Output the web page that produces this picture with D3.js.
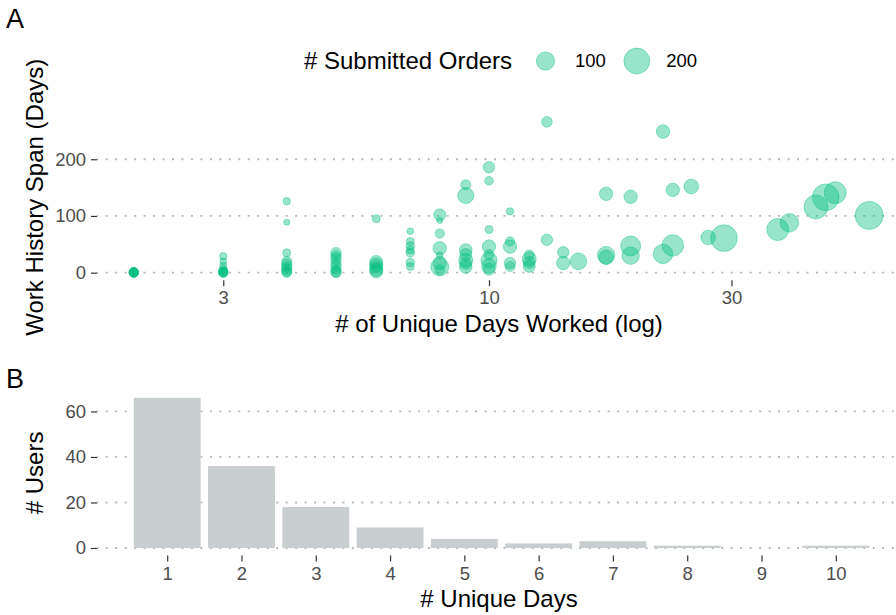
<!DOCTYPE html>
<html>
<head>
<meta charset="utf-8">
<script src="https://cdn.jsdelivr.net/npm/d3@7"></script>
<style>
  body { margin: 0; background: #fff; }
  svg { display: block; font-family: "Liberation Sans", Arial, sans-serif; }
  .tick text { fill: #4d4d4d; font-size: 18.5px; }
  .tick line { stroke: #333; stroke-width: 1.2; }
  .grid line { stroke: #b8b8b8; stroke-width: 1.8; stroke-dasharray: 2 7.47; stroke-dashoffset: 0.77; }
  .title { font-size: 24px; fill: #000; }
</style>
</head>
<body>
<svg id="chart" width="896" height="615"></svg>
<script>
// panel A: one entry per user
const daysWorked = [
  2, 2, 2, 2, 2, 2,
  3, 3, 3, 3, 3, 3, 3, 3,
  4, 4, 4, 4, 4, 4, 4, 4, 4,
  5, 5, 5, 5, 5, 5, 5, 5,
  6, 6, 6, 6, 6, 6,
  7, 7, 7, 7, 7, 7, 7,
  8, 8, 8, 8, 8, 8, 8, 8,
  9, 9, 9, 9, 9, 9, 9,
  10, 10, 10, 10, 10, 10, 10, 10,
  11, 11, 11, 11, 11,
  12, 12, 12, 12,
  13, 13, 14, 14, 15,
  17, 17, 17, 19, 19, 19,
  22, 22, 23, 23, 25, 27, 29,
  37, 39, 44, 46, 48, 56
];
const spanDays = [
  0, 0, 1, 0, 0, 1,
  29, 20, 12, 5, 2, 0, 0, 1,
  126, 89, 35, 20, 15, 10, 6, 2, 0,
  35, 30, 25, 18, 12, 6, 2, 0,
  95, 19, 14, 10, 5, 2,
  73, 55, 47, 40, 35, 18, 11,
  102, 92, 69, 43, 31, 17, 10, 5,
  155, 136, 40, 32, 22, 16, 10,
  186, 162, 76, 46, 32, 22, 12, 6,
  108, 55, 46, 17, 11,
  31, 24, 18, 11,
  266, 58, 36, 17, 20,
  139, 31, 27, 134, 47, 30,
  249, 33, 146, 48, 152, 62, 61,
  76, 88, 116, 133, 141, 101
];
const submittedOrders = [
  26, 24, 28, 22, 26, 24,
  16, 14, 16, 22, 26, 28, 24, 20,
  16, 11, 19, 30, 34, 30, 34, 30, 28,
  34, 30, 34, 30, 34, 30, 34, 30,
  19, 50, 54, 48, 54, 50,
  13, 19, 22, 19, 22, 22, 19,
  43, 11, 26, 54, 13, 54, 97, 30,
  30, 77, 48, 43, 59, 43, 48,
  39, 22, 19, 54, 30, 77, 64, 43,
  16, 26, 54, 39, 30,
  30, 59, 43, 43,
  34, 39, 39, 54, 83,
  54, 91, 64, 54, 120, 91,
  54, 113, 54, 138, 64, 64, 213,
  145, 104, 173, 213, 145, 236
];
const xTicksA = [3, 10, 30];
const yTicksA = [0, 100, 200];
const legendValues = [100, 200];

// panel B
const uniqueDays = [1, 2, 3, 4, 5, 6, 7, 8, 9, 10];
const userCounts = [66, 36, 18, 9, 4, 2, 3, 1, 0, 1];
const yTicksB = [0, 20, 40, 60];

const pointColor = "#00BF7D";
const barColor = "#c9ced1";

const svg = d3.select("#chart");
const left = 97, right = 906;   // panels run a little past the right edge of the picture
const titleX = 499;

// expand a continuous range by 5% on each side, like ggplot
function expand(lo, hi) {
  const p = (hi - lo) * 0.05;
  return [lo - p, hi + p];
}

// ---------------- panel A
const points = daysWorked.map((d, i) => ({ x: d, y: spanDays[i], n: submittedOrders[i] }));
const logX = expand(Math.log10(d3.min(daysWorked)), Math.log10(d3.max(daysWorked)));
const xA = d3.scaleLog()
  .domain(logX.map(v => Math.pow(10, v)))
  .range([left, right]);
const yA = d3.scaleLinear()
  .domain(expand(0, d3.max(spanDays)))
  .range([280.2, 114.3]);
const size = d3.scaleSqrt().domain([0, 200]).range([0, 12.9]);

const gA = svg.append("g");

gA.append("g").attr("class", "grid")
  .selectAll("line").data(yTicksA).join("line")
  .attr("x1", left).attr("x2", right)
  .attr("y1", d => yA(d)).attr("y2", d => yA(d));

gA.selectAll("circle.pt").data(points).join("circle")
  .attr("class", "pt")
  .attr("cx", d => xA(d.x))
  .attr("cy", d => yA(d.y))
  .attr("r", d => size(d.n))
  .attr("fill", pointColor).attr("fill-opacity", 0.4)
  .attr("stroke", pointColor).attr("stroke-opacity", 0.4).attr("stroke-width", 1);

gA.append("g")
  .attr("transform", `translate(${left},0)`)
  .call(d3.axisLeft(yA).tickValues(yTicksA).tickSize(6).tickPadding(5))
  .call(g => g.select(".domain").remove());

gA.append("g")
  .attr("transform", `translate(0,${yA.range()[0]})`)
  .call(d3.axisBottom(xA).tickValues(xTicksA).tickFormat(d3.format("d")).tickSize(6).tickPadding(4.5))
  .call(g => g.select(".domain").remove());

gA.append("text").attr("class", "title")
  .attr("x", titleX).attr("y", 332)
  .attr("text-anchor", "middle")
  .text("# of Unique Days Worked (log)");

gA.append("text").attr("class", "title")
  .attr("transform", `translate(43,${(yA.range()[0] + yA.range()[1]) / 2}) rotate(-90)`)
  .attr("text-anchor", "middle")
  .text("Work History Span (Days)");

// legend
const legend = svg.append("g");
legend.append("text").attr("class", "title")
  .attr("x", 304).attr("y", 69.3)
  .text("# Submitted Orders");
const legendX = [545.5, 636.8];
legendValues.forEach((v, i) => {
  legend.append("circle")
    .attr("cx", legendX[i]).attr("cy", 61)
    .attr("r", size(v))
    .attr("fill", pointColor).attr("fill-opacity", 0.4)
    .attr("stroke", pointColor).attr("stroke-opacity", 0.4).attr("stroke-width", 1);
  legend.append("text")
    .attr("x", legendX[i] + 29.5).attr("y", 67)
    .attr("font-size", "18.5px")
    .text(v);
});

svg.append("text").attr("x", 6).attr("y", 28).attr("font-size", "27px").text("A");

// ---------------- panel B
const xB = d3.scaleLinear()
  .domain(expand(d3.min(uniqueDays) - 0.45, d3.max(uniqueDays) + 0.45))
  .range([left, right]);
const yB = d3.scaleLinear()
  .domain(expand(0, d3.max(userCounts)))
  .range([555.5, 390.3]);
const barW = xB(0.9) - xB(0);

const gB = svg.append("g");

gB.append("g").attr("class", "grid")
  .selectAll("line").data(yTicksB).join("line")
  .attr("x1", left).attr("x2", right)
  .attr("y1", d => yB(d)).attr("y2", d => yB(d));

gB.selectAll("rect").data(uniqueDays).join("rect")
  .attr("x", d => xB(d) - barW / 2)
  .attr("width", barW)
  .attr("y", (d, i) => yB(userCounts[i]))
  .attr("height", (d, i) => yB(0) - yB(userCounts[i]))
  .attr("fill", barColor);

gB.append("g")
  .attr("transform", `translate(${left},0)`)
  .call(d3.axisLeft(yB).tickValues(yTicksB).tickSize(6).tickPadding(5))
  .call(g => g.select(".domain").remove());

gB.append("g")
  .attr("transform", `translate(0,${yB.range()[0]})`)
  .call(d3.axisBottom(xB).tickValues(uniqueDays).tickFormat(d3.format("d")).tickSize(6).tickPadding(5))
  .call(g => g.select(".domain").remove());

gB.append("text").attr("class", "title")
  .attr("x", titleX).attr("y", 606.5)
  .attr("text-anchor", "middle")
  .text("# Unique Days");

gB.append("text").attr("class", "title")
  .attr("transform", `translate(43,${(yB.range()[0] + yB.range()[1]) / 2}) rotate(-90)`)
  .attr("text-anchor", "middle")
  .text("# Users");

svg.append("text").attr("x", 6).attr("y", 388).attr("font-size", "27px").text("B");
</script>
</body>
</html>
